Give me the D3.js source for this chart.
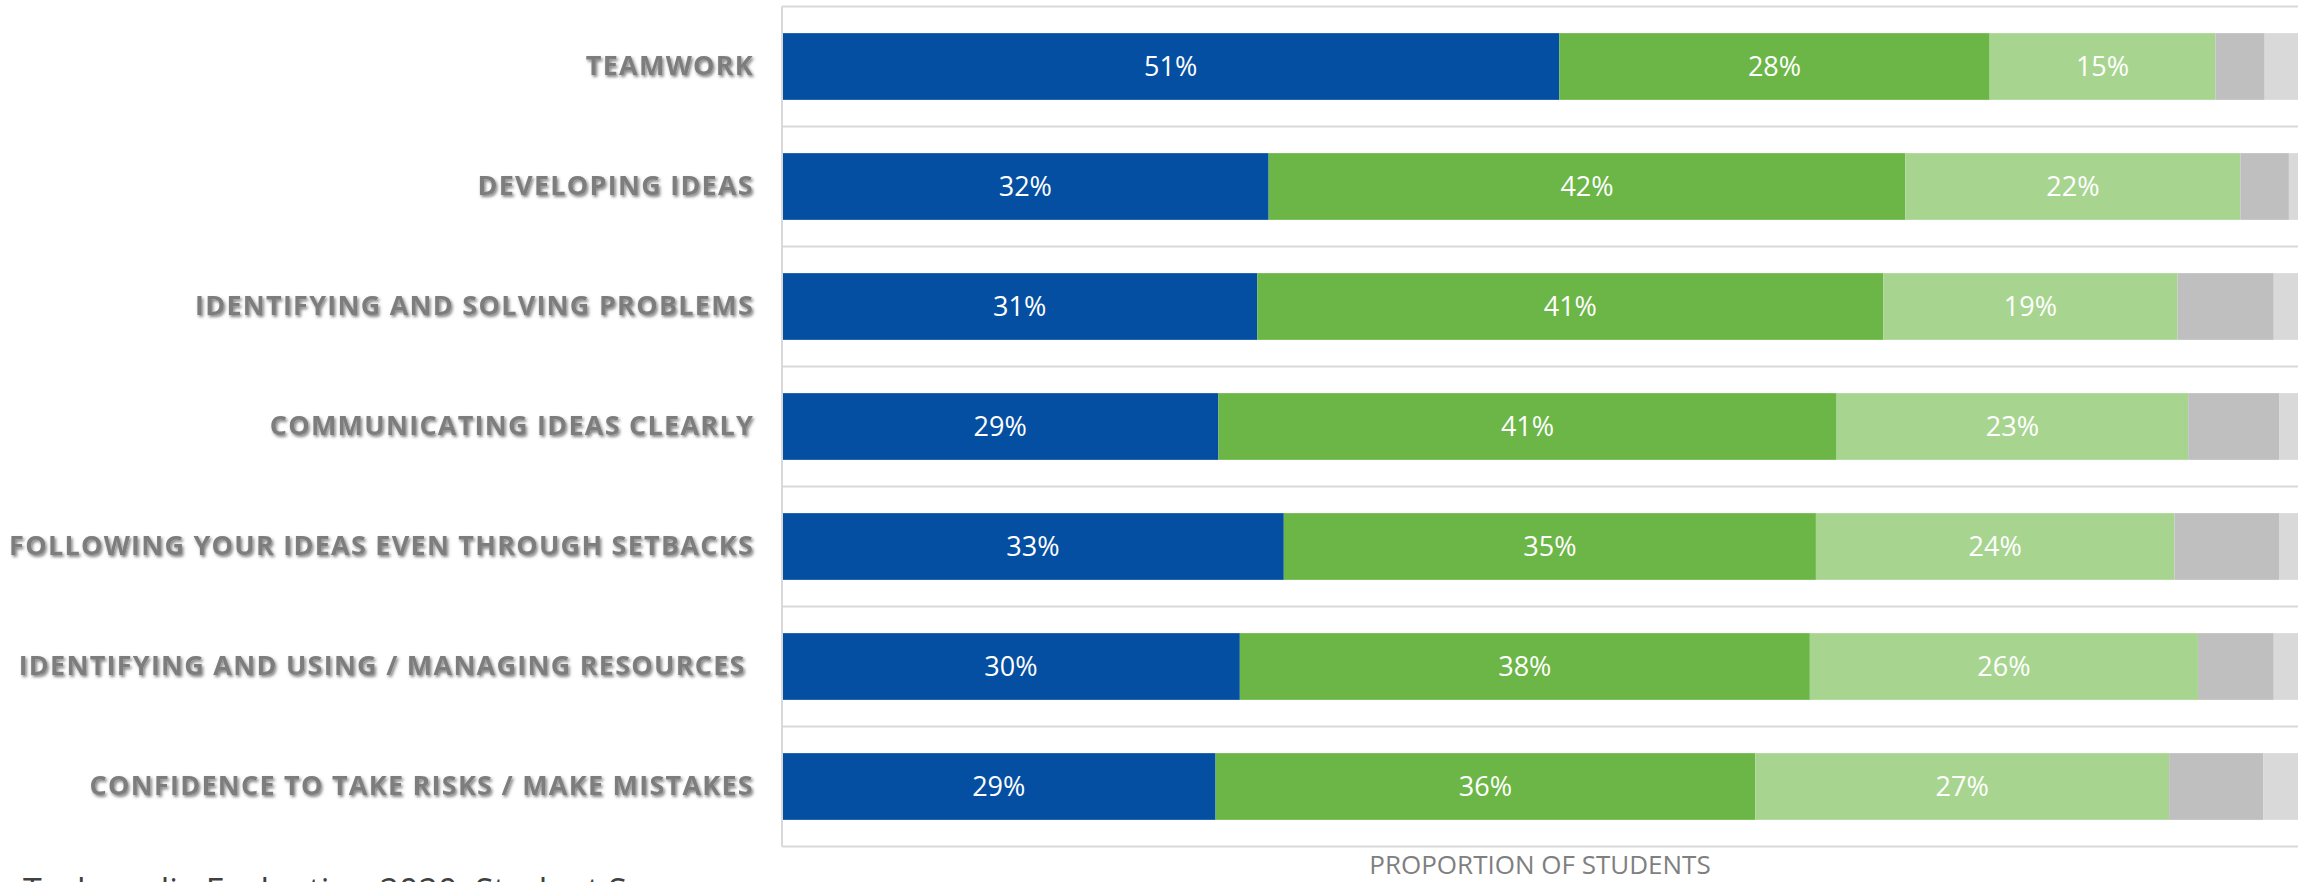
<!DOCTYPE html>
<html>
<head>
<meta charset="utf-8">
<script src="https://cdn.jsdelivr.net/npm/d3@7"></script>
<style>
  body { margin: 0; background: #fff; }
  svg { display: block; }
  .cat-axis text { white-space: pre; }
</style>
</head>
<body>
<script>
// skills asked about, top to bottom
const categories = [
  "TEAMWORK",
  "DEVELOPING IDEAS",
  "IDENTIFYING AND SOLVING PROBLEMS",
  "COMMUNICATING IDEAS CLEARLY",
  "FOLLOWING YOUR IDEAS EVEN THROUGH SETBACKS",
  "IDENTIFYING AND USING / MANAGING RESOURCES ",
  "CONFIDENCE TO TAKE RISKS / MAKE MISTAKES"
];

// response levels, most positive first (legend is not in the picture), % of students
const series1 = [51.3, 32.1, 31.35, 28.8, 33.1, 30.2, 28.6];
const series2 = [28.4, 42.0, 41.3, 40.8, 35.1, 37.6, 35.6];
const series3 = [14.9, 22.1, 19.4, 23.2, 23.65, 25.6, 27.3];
const series4 = [3.25, 3.2, 6.35, 6.0, 6.9, 5.0, 6.2];
const series5 = [2.2, 0.6, 1.6, 1.25, 1.25, 1.6, 2.3];

const seriesKeys = ["series1", "series2", "series3", "series4", "series5"];
const labelledKeys = ["series1", "series2", "series3"];

const axisTitle = "PROPORTION OF STUDENTS";
const sourceNote = "Techmedia Evaluation 2020, Student Survey";

const width = 2305;
const height = 882;
const plotLeft = 782;
const plotRight = 2298;
const plotTop = 6.5;
const plotBottom = 846.5;

const colors = {
  series1: "#044fa1",
  series2: "#6bb646",
  series3: "#a7d590",
  series4: "#bfbfbf",
  series5: "#d9d9d9"
};
const gridColor = "#d9d9d9";

const rows = categories.map(function (c, i) {
  return {
    category: c,
    series1: series1[i],
    series2: series2[i],
    series3: series3[i],
    series4: series4[i],
    series5: series5[i]
  };
});

const stacked = d3
  .stack()
  .keys(seriesKeys)
  .offset(d3.stackOffsetExpand)(rows);

const x = d3.scaleLinear().domain([0, 1]).range([plotLeft, plotRight]);

const y = d3
  .scaleBand()
  .domain(categories)
  .range([plotTop, plotBottom])
  .paddingInner(0.444)
  .paddingOuter(0.222);

const svg = d3
  .select("body")
  .append("svg")
  .attr("width", width)
  .attr("height", height);

const defs = svg.append("defs");
defs
  .append("filter")
  .attr("id", "shadow")
  .attr("x", "-5%")
  .attr("y", "-30%")
  .attr("width", "110%")
  .attr("height", "160%")
  .append("feDropShadow")
  .attr("dx", 1.5)
  .attr("dy", 2)
  .attr("stdDeviation", 1.4)
  .attr("flood-color", "#000")
  .attr("flood-opacity", 0.5);

// horizontal gridlines between the categories
const gap = (y.step() - y.bandwidth()) / 2;
const gridYs = categories.map(function (c) {
  return y(c) - gap;
});
gridYs.push(y(categories[categories.length - 1]) + y.bandwidth() + gap);

svg
  .append("g")
  .selectAll("line")
  .data(gridYs)
  .enter()
  .append("line")
  .attr("x1", plotLeft)
  .attr("x2", plotRight)
  .attr("y1", function (d) { return d; })
  .attr("y2", function (d) { return d; })
  .attr("stroke", gridColor)
  .attr("stroke-width", 2);

// bars
const layers = svg
  .append("g")
  .selectAll("g")
  .data(stacked)
  .enter()
  .append("g")
  .attr("fill", function (d) { return colors[d.key]; });

layers
  .selectAll("rect")
  .data(function (d) { return d; })
  .enter()
  .append("rect")
  .attr("x", function (d) { return x(d[0]); })
  .attr("y", function (d) { return y(d.data.category); })
  .attr("width", function (d) { return x(d[1]) - x(d[0]); })
  .attr("height", y.bandwidth());

// value labels, only on the three coloured segments
const labelled = stacked.filter(function (s) {
  return labelledKeys.indexOf(s.key) >= 0;
});

labelled.forEach(function (s) {
  svg
    .append("g")
    .selectAll("text")
    .data(s)
    .enter()
    .append("text")
    .attr("x", function (d) { return (x(d[0]) + x(d[1])) / 2; })
    .attr("y", function (d) { return y(d.data.category) + y.bandwidth() / 2; })
    .attr("dy", "0.36em")
    .attr("text-anchor", "middle")
    .attr("fill", "#fff")
    .attr("font-family", "'Open Sans', sans-serif")
    .attr("font-size", 27)
    .text(function (d) { return Math.round(d.data[s.key]) + "%"; });
});

// vertical category axis line
svg
  .append("line")
  .attr("x1", plotLeft)
  .attr("x2", plotLeft)
  .attr("y1", plotTop)
  .attr("y2", plotBottom)
  .attr("stroke", gridColor)
  .attr("stroke-width", 2);

// category labels
const catAxis = svg
  .append("g")
  .attr("class", "cat-axis")
  .attr("transform", "translate(" + plotLeft + ",0)")
  .call(d3.axisLeft(y).tickSize(0).tickPadding(28));

catAxis.select(".domain").remove();
catAxis
  .selectAll("text")
  .attr("fill", "#7d7d7d")
  .attr("font-family", "'Open Sans', sans-serif")
  .attr("font-weight", 700)
  .attr("font-size", 27)
  .attr("letter-spacing", 1.25)
  .attr("filter", "url(#shadow)");

// axis title
svg
  .append("text")
  .attr("x", (plotLeft + plotRight) / 2)
  .attr("y", 874)
  .attr("text-anchor", "middle")
  .attr("fill", "#7f7f7f")
  .attr("font-family", "'Open Sans', sans-serif")
  .attr("font-size", 26)
  .text(axisTitle);

// source note, mostly cut off by the bottom edge as in the picture
svg
  .append("text")
  .attr("x", 23)
  .attr("y", 903)
  .attr("fill", "#404040")
  .attr("font-family", "'Open Sans', sans-serif")
  .attr("font-size", 34)
  .text(sourceNote);
</script>
</body>
</html>
